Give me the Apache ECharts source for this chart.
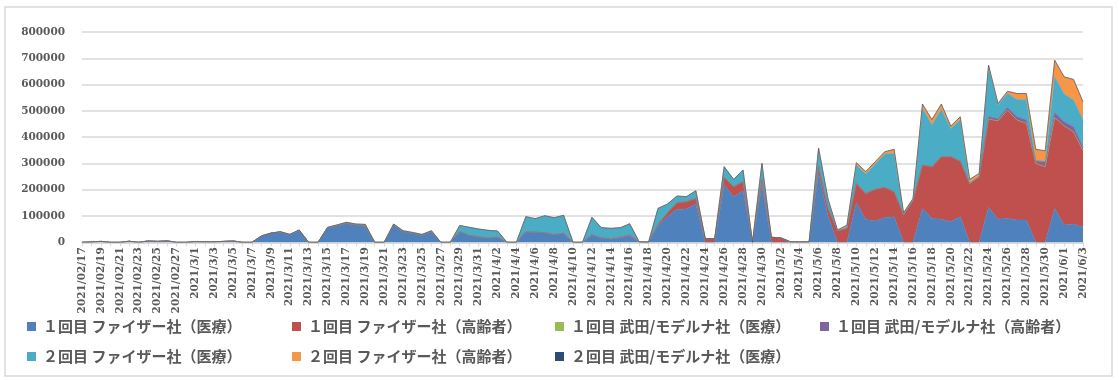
<!DOCTYPE html>
<html>
<head>
<meta charset="utf-8">
<script src="https://cdn.jsdelivr.net/npm/echarts@6/dist/echarts.min.js"></script>
<style>
html,body{margin:0;padding:0;background:#fff;}
#chart{width:1119px;height:380px;}
</style>
</head>
<body>
<div id="chart"></div>
<script>
var dates = [
"2021/02/17","2021/02/18","2021/02/19","2021/02/20","2021/02/21","2021/02/22","2021/02/23","2021/02/24","2021/02/25","2021/02/26","2021/02/27","2021/02/28",
"2021/3/1","2021/3/2","2021/3/3","2021/3/4","2021/3/5","2021/3/6","2021/3/7","2021/3/8","2021/3/9","2021/3/10","2021/3/11","2021/3/12","2021/3/13","2021/3/14","2021/3/15","2021/3/16","2021/3/17","2021/3/18","2021/3/19","2021/3/20","2021/3/21","2021/3/22","2021/3/23","2021/3/24","2021/3/25","2021/3/26","2021/3/27","2021/3/28","2021/3/29","2021/3/30","2021/3/31",
"2021/4/1","2021/4/2","2021/4/3","2021/4/4","2021/4/5","2021/4/6","2021/4/7","2021/4/8","2021/4/9","2021/4/10","2021/4/11","2021/4/12","2021/4/13","2021/4/14","2021/4/15","2021/4/16","2021/4/17","2021/4/18","2021/4/19","2021/4/20","2021/4/21","2021/4/22","2021/4/23","2021/4/24","2021/4/25","2021/4/26","2021/4/27","2021/4/28","2021/4/29","2021/4/30",
"2021/5/1","2021/5/2","2021/5/3","2021/5/4","2021/5/5","2021/5/6","2021/5/7","2021/5/8","2021/5/9","2021/5/10","2021/5/11","2021/5/12","2021/5/13","2021/5/14","2021/5/15","2021/5/16","2021/5/17","2021/5/18","2021/5/19","2021/5/20","2021/5/21","2021/5/22","2021/5/23","2021/5/24","2021/5/25","2021/5/26","2021/5/27","2021/5/28","2021/5/29","2021/5/30","2021/5/31",
"2021/6/1","2021/6/2","2021/6/3"
];

var seriesNames = [
"１回目 ファイザー社（医療）",
"１回目 ファイザー社（高齢者）",
"１回目 武田/モデルナ社（医療）",
"１回目 武田/モデルナ社（高齢者）",
"２回目 ファイザー社（医療）",
"２回目 ファイザー社（高齢者）",
"２回目 武田/モデルナ社（医療）"
];

var p1Med = [
125,1500,3500,0,0,4000,0,5000,3500,5500,0,0,2500,2000,2000,3500,5000,0,0,
24000,35000,39000,29000,45000,0,0,55000,63000,72000,66000,62000,
0,0,66000,40000,34000,27000,40000,0,0,
41000,26000,20000,16000,19000,0,0,
40000,38000,36500,29000,34000,0,0,
27500,15000,11500,16500,24000,0,0,
64000,97500,125000,127000,145000,0,0,
218000,173500,196000,0,217000,0,0,0,0,0,
262000,100000,0,0,150500,87000,81000,93500,97500,0,0,
129000,91000,87500,78000,97500,0,0,
133000,87500,91000,85000,85000,0,0,
129000,66000,69500,57000
];

var p1Eld = [
0,0,0,0,0,0,0,0,0,0,0,0,0,0,0,0,0,0,0,0,0,0,0,0,0,0,0,0,0,0,0,0,0,0,0,0,0,0,0,0,0,0,0,0,0,0,0,0,0,0,0,0,0,0,
500,1500,2000,2500,3500,2000,1000,
5000,15000,25500,27500,22000,14000,14000,
29000,38000,34500,0,22500,19000,17000,2000,1500,2000,
25500,30000,44000,53000,73500,99000,120500,115500,95000,106000,160000,
165000,196500,238000,247500,211500,224000,249500,
335500,374500,412000,380000,367500,300000,287500,
346000,376000,351000,291500
];

var p1MedM = [
0,0,0,0,0,0,0,0,0,0,0,0,0,0,0,0,0,0,0,0,0,0,0,0,0,0,0,0,0,0,0,0,0,0,0,0,0,0,0,0,0,0,0,0,0,0,0,0,0,0,0,0,0,0,
0,0,0,0,0,0,0,0,0,0,0,0,0,0,0,0,0,0,0,0,0,0,0,0,0,0,0,0,0,0,0,0,0,0,0,0,0,0,0,0,0,0,0,0,0,0,0,0,0,0,0,0,0
];

var p1EldM = [
0,0,0,0,0,0,0,0,0,0,0,0,0,0,0,0,0,0,0,0,0,0,0,0,0,0,0,0,0,0,0,0,0,0,0,0,0,0,0,0,0,0,0,0,0,0,0,0,0,0,0,0,0,0,
0,0,0,0,0,0,0,0,0,0,0,0,0,0,0,0,0,0,0,0,0,0,0,0,0,0,0,0,0,0,0,0,0,0,0,0,0,0,0,0,0,0,
9000,8000,10000,12500,12500,10000,19000,18000,16500,19000,12500
];

var p2Med = [
0,0,0,0,0,0,0,0,0,0,0,0,0,0,0,0,0,0,0,0,0,
1500,1500,2000,0,0,2000,3000,4000,3500,6000,
0,0,3500,4000,3500,3000,4000,0,0,
23000,31000,30500,29500,24000,0,0,
57500,52000,64500,64500,68500,0,0,
67000,39000,39500,36500,43000,0,0,
60000,33000,25500,19000,29000,0,0,
40500,28000,44500,0,60500,0,0,0,0,0,
70000,33000,0,5000,70000,74000,96000,126500,145500,0,0,
215500,158500,180000,107500,156000,0,0,
190000,52000,53000,66000,76000,0,0,
136500,105500,101500,104000
];

var p2Eld = [
0,0,0,0,0,0,0,0,0,0,0,0,0,0,0,0,0,0,0,0,0,0,0,0,0,0,0,0,0,0,0,0,0,0,0,0,0,0,0,0,
0,0,0,0,0,0,0,0,0,0,0,0,0,0,0,0,0,0,0,0,0,0,0,0,0,0,0,0,0,0,0,0,0,0,0,0,0,0,0,
2000,3000,7000,8500,9000,9000,9000,15500,6500,7000,
16500,21000,20500,9000,12500,15500,12500,
6500,6000,8500,22500,25000,43500,42000,
63500,65500,78500,69500
];

var p2MedM = [
0,0,0,0,0,0,0,0,0,0,0,0,0,0,0,0,0,0,0,0,0,0,0,0,0,0,0,0,0,0,0,0,0,0,0,0,0,0,0,0,0,0,0,0,0,0,0,0,0,0,0,0,0,0,
0,0,0,0,0,0,0,0,0,0,0,0,0,0,0,0,0,0,0,0,0,0,0,0,0,0,0,0,0,0,0,0,0,0,0,0,0,0,0,0,0,0,0,0,0,0,0,0,0,0,0,0,0
];

var yTicks = [0,100000,200000,300000,400000,500000,600000,700000,800000];

var colors = ["#4F81BD","#C0504D","#9BBB59","#8064A2","#4BACC6","#F79646","#2C4D75"];
var dataSets = [p1Med,p1Eld,p1MedM,p1EldM,p2Med,p2Eld,p2MedM];

var legendPos = [
  {left:22, top:314},{left:287, top:314},{left:550, top:314},{left:815, top:314},
  {left:22, top:344},{left:287, top:344},{left:550, top:344}
];

var legends = seriesNames.map(function(n,i){
  return {
    data:[n], left:legendPos[i].left, top:legendPos[i].top,
    icon:'rect', itemWidth:9, itemHeight:9, itemGap:0,
    textStyle:{fontFamily:'Noto Sans CJK JP', fontWeight:'bold', fontSize:15, color:'#595959', padding:[0,0,0,2]},
    selectedMode:false
  };
});

var series = seriesNames.map(function(n,i){
  return {
    name:n, type:'line', stack:'total', data:dataSets[i],
    symbol:'none', showSymbol:false,
    lineStyle:{width:0.6, color:colors[i]},
    itemStyle:{color:colors[i]},
    areaStyle:{color:colors[i], opacity:1},
    emphasis:{disabled:true}
  };
});

var chart = echarts.init(document.getElementById('chart'));
chart.setOption({
  animation:false,
  color:colors,
  graphic:[{type:'rect', shape:{x:5,y:7,width:1107,height:369}, style:{fill:'none', stroke:'#d9d9d9', lineWidth:1.5}, z:-1}],
  grid:{left:82, right:36, top:32, bottom:137.7, containLabel:false},
  legend:legends,
  xAxis:{
    type:'category', data:dates, boundaryGap:false,
    axisLine:{show:true, lineStyle:{color:'#d9d9d9', width:1.5}},
    axisTick:{show:true, interval:0, length:4, lineStyle:{color:'#d9d9d9', width:1}},
    axisLabel:{interval:1, rotate:90, margin:5, fontFamily:'DejaVu Serif', fontWeight:'bold', fontSize:10.5, color:'#595959'}
  },
  yAxis:{
    type:'value', min:yTicks[0], max:yTicks[yTicks.length-1], interval:yTicks[1]-yTicks[0],
    axisLine:{show:false}, axisTick:{show:false},
    splitLine:{lineStyle:{color:'#d9d9d9', width:1.5}},
    axisLabel:{margin:17, fontFamily:'DejaVu Serif', fontWeight:'bold', fontSize:10.5, color:'#595959',
      formatter:function(v){return String(v);}}
  },
  series:series
});
</script>
</body>
</html>
